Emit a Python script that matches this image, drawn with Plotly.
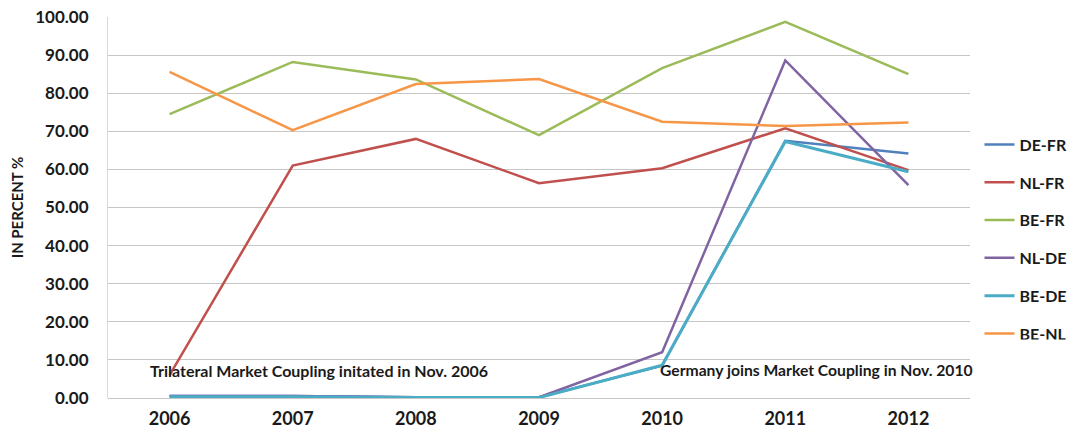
import plotly.graph_objects as go

years = ["2006", "2007", "2008", "2009", "2010", "2011", "2012"]
de_fr = [0.5, 0.5, 0.2, 0.2, 8.5, 67.5, 64.2]
nl_fr = [6.0, 61.0, 68.0, 56.4, 60.3, 70.8, 59.8]
be_fr = [74.5, 88.2, 83.6, 69.0, 86.6, 98.7, 85.0]
nl_de = [0.5, 0.5, 0.2, 0.2, 12.0, 88.6, 55.9]
be_de = [0.3, 0.3, 0.1, 0.1, 8.6, 67.3, 59.4]
be_nl = [85.6, 70.3, 82.4, 83.7, 72.5, 71.4, 72.3]

series = [
    ("DE-FR", de_fr, "#4F81BD", 2.5),
    ("NL-FR", nl_fr, "#C0504D", 2.5),
    ("BE-FR", be_fr, "#9BBB59", 2.5),
    ("NL-DE", nl_de, "#8064A2", 2.5),
    ("BE-DE", be_de, "#4BACC6", 3),
    ("BE-NL", be_nl, "#F79646", 2.5),
]

font_family = "Lato, 'Open Sans', sans-serif"

fig = go.Figure()
for i, (name, vals, color, w) in enumerate(series):
    fig.add_trace(go.Scatter(
        x=years, y=vals, name=name, mode="lines",
        line=dict(color=color, width=w),
        legendgroup=name,
    ))

# page body has an 8px margin, so the figure is sized to fit the window
fig.update_layout(
    width=1067, height=424,
    margin=dict(l=100, r=105, t=9, b=34),
    paper_bgcolor="white", plot_bgcolor="white",
    font=dict(family=font_family, color="#1a1a1a"),
    showlegend=True,
    legend=dict(
        xref="container", yref="container",
        x=0.9105, y=0.718, xanchor="left", yanchor="top",
        font=dict(size=16, family=font_family, color="#1a1a1a", weight="bold"),
        traceorder="grouped", tracegroupgap=14,
        itemwidth=30, bgcolor="rgba(0,0,0,0)",
    ),
    xaxis=dict(
        type="category", showgrid=False, zeroline=False,
        showline=False, ticks="", automargin=False,
        tickfont=dict(size=18, family=font_family, weight="bold"),
        ticklabelstandoff=8,
        range=[-0.5, 6.5],
    ),
    yaxis=dict(
        range=[0, 100], tick0=0, dtick=10, tickformat=".2f",
        showgrid=True, gridcolor="#C6C6C6", gridwidth=1,
        zeroline=True, zerolinecolor="#C6C6C6", zerolinewidth=1,
        showline=True, linecolor="#D9D9D9", linewidth=1,
        automargin=False, ticklabeloverflow="allow",
        tickfont=dict(size=17, family=font_family, weight="bold"),
        ticklabelstandoff=15,
        title=dict(text="IN PERCENT %", font=dict(size=15, family=font_family, weight="bold"), standoff=8),
    ),
)

fig.add_annotation(
    x=0, y=7.3, xref="x", yref="y", xanchor="left", yanchor="middle",
    xshift=-22,
    text="Trilateral Market Coupling initated in Nov. 2006", showarrow=False,
    font=dict(size=16, family=font_family, color="#1a1a1a", weight="bold"),
)
fig.add_annotation(
    x=4, y=7.3, xref="x", yref="y", xanchor="left", yanchor="middle",
    xshift=-4,
    text="Germany joins Market Coupling in Nov. 2010", showarrow=False,
    font=dict(size=15.7, family=font_family, color="#1a1a1a", weight="bold"),
)

fig.write_html("out.html")
